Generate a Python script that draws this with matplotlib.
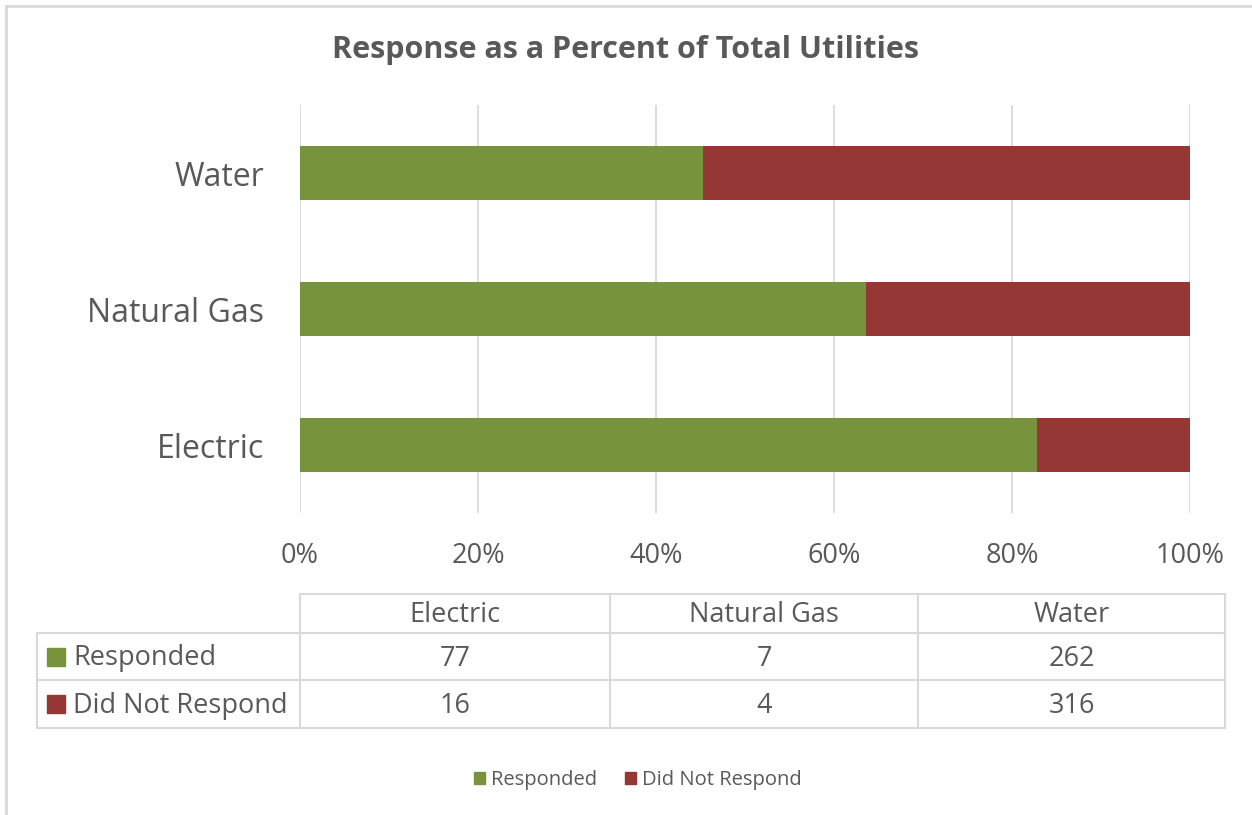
import matplotlib
matplotlib.use("Agg")
import matplotlib.pyplot as plt
from matplotlib.lines import Line2D
from matplotlib.patches import Rectangle
from matplotlib.ticker import PercentFormatter

plt.rcParams['font.family'] = ['Open Sans', 'DejaVu Sans']

categories = ["Electric", "Natural Gas", "Water"]
responded = [77, 7, 262]
not_responded = [16, 4, 316]
series_names = ["Responded", "Did Not Respond"]
colors = ["#77933C", "#953735"]
txt = "#595959"
grid = "#D9D9D9"

W, H = 1252, 815
fig = plt.figure(figsize=(W / 100, H / 100), dpi=100)

def fx(x):
    return x / W

def fy(y):
    return 1 - y / H

# plot area
ax = fig.add_axes([fx(300), fy(513), fx(1190) - fx(300), fy(105) - fy(513)])
totals = [a + b for a, b in zip(responded, not_responded)]
pct_r = [100 * a / t for a, t in zip(responded, totals)]
pct_n = [100 * b / t for b, t in zip(not_responded, totals)]
ypos = range(len(categories))
ax.barh(ypos, pct_r, height=0.4, color=colors[0], zorder=3)
ax.barh(ypos, pct_n, left=pct_r, height=0.4, color=colors[1], zorder=3)
ax.set_xlim(0, 100)
ax.set_ylim(-0.5, 2.5)
ax.set_xticks([0, 20, 40, 60, 80, 100])
ax.xaxis.set_major_formatter(PercentFormatter(decimals=0))
ax.set_yticks(list(ypos))
ax.set_yticklabels(categories)
ax.grid(axis='x', color=grid, lw=1.3, zorder=0)
for s in ax.spines.values():
    s.set_visible(False)
ax.tick_params(length=0, colors=txt)
ax.tick_params(axis='x', labelsize=19.5, pad=21)
ax.tick_params(axis='y', labelsize=23, pad=26)

fig.text(0.5, fy(50), "Response as a Percent of Total Utilities", ha='center', va='center',
         fontsize=22, fontweight='bold', color=txt)

# data table
def hline(y, x0, x1):
    fig.add_artist(Line2D([fx(x0), fx(x1)], [fy(y), fy(y)], color=grid, lw=1.5))

def vline(x, y0, y1):
    fig.add_artist(Line2D([fx(x), fx(x)], [fy(y0), fy(y1)], color=grid, lw=1.5))

cols = [300, 610, 918, 1225]
rows = [594, 633, 680, 728]
hline(rows[0], cols[0], cols[-1])
for y in rows[1:]:
    hline(y, 37, cols[-1])
vline(37, rows[1], rows[-1])
for x in cols:
    vline(x, rows[0], rows[-1])

for i, c in enumerate(categories):
    xc = (cols[i] + cols[i + 1]) / 2
    fig.text(fx(xc), fy((rows[0] + rows[1]) / 2 + 2), c, ha='center', va='center', fontsize=19.5, color=txt)
    for j, vals in enumerate([responded, not_responded]):
        fig.text(fx(xc), fy((rows[j + 1] + rows[j + 2]) / 2 + 2), str(vals[i]), ha='center', va='center',
                 fontsize=19.5, color=txt)

for j, name in enumerate(series_names):
    yc = (rows[j + 1] + rows[j + 2]) / 2
    fig.add_artist(Rectangle((fx(47), fy(yc + 9)), fx(18), 18 / H, color=colors[j]))
    fig.text(fx(73), fy(yc + 2), name, ha='left', va='center', fontsize=19.5, color=txt)

# legend
leg = fig.legend(handles=[Rectangle((0, 0), 1, 1, color=c) for c in colors], labels=series_names,
                 loc='center', bbox_to_anchor=(fx(638), fy(780)), ncol=2, frameon=False,
                 fontsize=14.5, handlelength=0.55, handleheight=0.55, handletextpad=0.3, columnspacing=1.4)
for t in leg.get_texts():
    t.set_color(txt)

# chart border (top and left visible)
fig.add_artist(Line2D([fx(6), fx(W)], [fy(6), fy(6)], color=grid, lw=2))
fig.add_artist(Line2D([fx(6), fx(6)], [fy(6), 0], color=grid, lw=2))

fig.savefig("out.png", dpi=100)
